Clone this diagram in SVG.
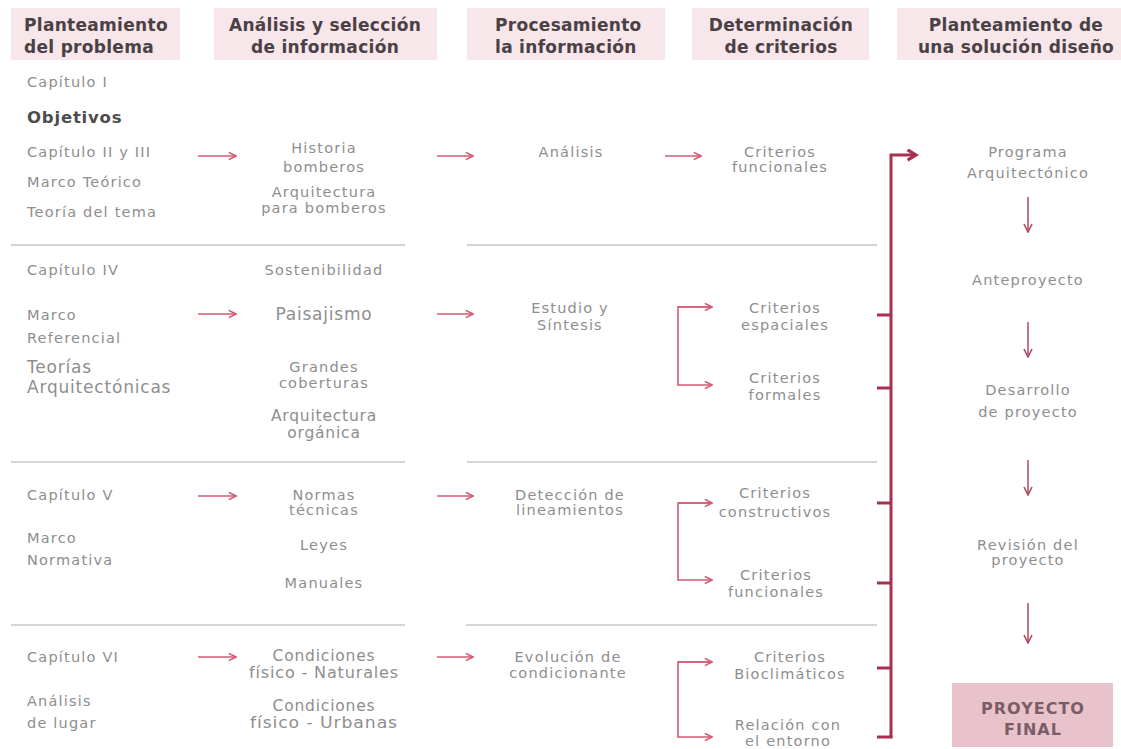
<svg xmlns="http://www.w3.org/2000/svg" width="1121" height="749" viewBox="0 0 1121 749">
<style>
.hb{fill:#f7e6ea}
.ht{font-family:"DejaVu Sans",Verdana,sans-serif;font-weight:bold;font-size:17px;fill:#4a4145;letter-spacing:0.3px}
.t{font-family:"DejaVu Sans",Verdana,sans-serif;font-size:14.5px;fill:#8e8e8e;letter-spacing:1.2px}
.tl{font-family:"DejaVu Sans",Verdana,sans-serif;font-size:17px;fill:#8e8e8e;letter-spacing:0.8px}
.tm{font-family:"DejaVu Sans",Verdana,sans-serif;font-size:15.5px;fill:#8e8e8e;letter-spacing:0.8px}
.ob{font-family:"DejaVu Sans",Verdana,sans-serif;font-weight:bold;font-size:16.5px;fill:#4d4d4d;letter-spacing:0.8px}
.m{text-anchor:middle}
.gl{stroke:#d5d5d5;stroke-width:2;fill:none}
.sa{stroke:#d45a74;stroke-width:1.6;fill:none}
.da{stroke:#b04862;stroke-width:1.5;fill:none}
.ra{stroke:#a8304e;stroke-width:3;fill:none}
.fb{fill:#e9c3cc}
.ft{font-family:"DejaVu Sans",Verdana,sans-serif;font-weight:bold;font-size:16px;fill:#7a5d65;letter-spacing:1px;text-anchor:middle}
</style>
<defs>
<marker id="ah" viewBox="0 0 10 10" refX="9" refY="5" markerWidth="9" markerHeight="9" markerUnits="userSpaceOnUse" orient="auto">
<path d="M1,1 L9,5 L1,9" fill="none" stroke="#d45a74" stroke-width="1.8"/>
</marker>
<marker id="ahd" viewBox="0 0 10 10" refX="9" refY="5" markerWidth="10" markerHeight="10" markerUnits="userSpaceOnUse" orient="auto">
<path d="M1,1 L9,5 L1,9" fill="none" stroke="#b04862" stroke-width="1.6"/>
</marker>
<marker id="ahb" viewBox="0 0 10 10" refX="8" refY="5" markerWidth="13" markerHeight="13" markerUnits="userSpaceOnUse" orient="auto">
<path d="M1.5,1 L8,5 L1.5,9" fill="none" stroke="#a8304e" stroke-width="2.4"/>
</marker>
</defs>
<rect width="1121" height="749" fill="#ffffff"/>

<g id="headers">
<g id="h1"><rect class="hb" x="11" y="8" width="169" height="52"/><text class="ht" x="24" y="31">Planteamiento</text><text class="ht" x="24" y="53">del problema</text></g>
<g id="h2"><rect class="hb" x="214" y="8" width="223" height="52"/><text class="ht m" x="325" y="31">Análisis y selección</text><text class="ht m" x="325" y="53">de información</text></g>
<g id="h3"><rect class="hb" x="467" y="8" width="198" height="52"/><text class="ht" x="495" y="31">Procesamiento</text><text class="ht" x="495" y="53">la información</text></g>
<g id="h4"><rect class="hb" x="692" y="8" width="177" height="52"/><text class="ht m" x="781" y="31">Determinación</text><text class="ht m" x="781" y="53">de criterios</text></g>
<g id="h5"><rect class="hb" x="897" y="8" width="224" height="52"/><text class="ht m" x="1016" y="31">Planteamiento de</text><text class="ht m" x="1016" y="53">una solución diseño</text></g>
</g>

<g id="separators">
<line class="gl" x1="11" y1="245" x2="405" y2="245"/><line class="gl" x1="467" y1="245" x2="877" y2="245"/>
<line class="gl" x1="11" y1="462" x2="405" y2="462"/><line class="gl" x1="467" y1="462" x2="877" y2="462"/>
<line class="gl" x1="11" y1="625" x2="405" y2="625"/><line class="gl" x1="466" y1="625" x2="877" y2="625"/>
</g>

<g id="col1">
<g id="n-cap1"><text class="t" x="27" y="87">Capítulo I</text></g>
<g id="n-obj"><text class="ob" x="27" y="123">Objetivos</text></g>
<g id="n-cap23"><text class="t" x="27" y="157">Capítulo II y III</text><text class="t" x="27" y="187">Marco Teórico</text><text class="t" x="27" y="217">Teoría del tema</text></g>
<g id="n-cap4"><text class="t" x="27" y="275">Capítulo IV</text><text class="t" x="27" y="320">Marco</text><text class="t" x="27" y="343">Referencial</text><text class="tl" x="27" y="373">Teorías</text><text class="tl" x="27" y="393">Arquitectónicas</text></g>
<g id="n-cap5"><text class="t" x="27" y="500">Capítulo V</text><text class="t" x="27" y="543">Marco</text><text class="t" x="27" y="565">Normativa</text></g>
<g id="n-cap6"><text class="t" x="27" y="662">Capítulo VI</text><text class="t" x="27" y="706">Análisis</text><text class="t" x="27" y="728">de lugar</text></g>
</g>

<g id="col2">
<g id="n-hist"><text class="t m" x="324" y="153">Historia</text><text class="t m" x="324" y="172">bomberos</text><text class="t m" x="324" y="197">Arquitectura</text><text class="t m" x="324" y="213">para bomberos</text></g>
<g id="n-sost"><text class="t m" x="324" y="275">Sostenibilidad</text><text class="tl m" x="324" y="320">Paisajismo</text><text class="t m" x="324" y="372">Grandes</text><text class="t m" x="324" y="388">coberturas</text><text class="tm m" x="324" y="421">Arquitectura</text><text class="tm m" x="324" y="438">orgánica</text></g>
<g id="n-norm"><text class="t m" x="324" y="500">Normas</text><text class="t m" x="324" y="515">técnicas</text><text class="t m" x="324" y="550">Leyes</text><text class="t m" x="324" y="588">Manuales</text></g>
<g id="n-cond"><text class="tm m" x="324" y="661">Condiciones</text><text class="tm m" x="324" y="678" textLength="150" lengthAdjust="spacingAndGlyphs">físico - Naturales</text><text class="tm m" x="324" y="711">Condiciones</text><text class="tm m" x="324" y="728" textLength="148" lengthAdjust="spacingAndGlyphs">físico - Urbanas</text></g>
</g>

<g id="col3">
<g id="n-anal"><text class="t m" x="571" y="157">Análisis</text></g>
<g id="n-est"><text class="t m" x="570" y="313">Estudio y</text><text class="t m" x="570" y="330">Síntesis</text></g>
<g id="n-det"><text class="t m" x="570" y="500">Detección de</text><text class="t m" x="570" y="515">lineamientos</text></g>
<g id="n-evo"><text class="t m" x="568" y="662">Evolución de</text><text class="t m" x="568" y="678">condicionante</text></g>
</g>

<g id="col4">
<g id="n-cf1"><text class="t m" x="780" y="157">Criterios</text><text class="t m" x="780" y="172">funcionales</text></g>
<g id="n-ce"><text class="t m" x="785" y="313">Criterios</text><text class="t m" x="785" y="330">espaciales</text></g>
<g id="n-cfo"><text class="t m" x="785" y="383">Criterios</text><text class="t m" x="785" y="400">formales</text></g>
<g id="n-cc"><text class="t m" x="775" y="498">Criterios</text><text class="t m" x="775" y="517">constructivos</text></g>
<g id="n-cf2"><text class="t m" x="776" y="580">Criterios</text><text class="t m" x="776" y="597">funcionales</text></g>
<g id="n-cb"><text class="t m" x="790" y="662">Criterios</text><text class="t m" x="790" y="679">Bioclimáticos</text></g>
<g id="n-re"><text class="t m" x="788" y="730">Relación con</text><text class="t m" x="788" y="746">el entorno</text></g>
</g>

<g id="col5">
<g id="n-prog"><text class="t m" x="1028" y="157">Programa</text><text class="t m" x="1028" y="178">Arquitectónico</text></g>
<g id="n-ante"><text class="t m" x="1028" y="285">Anteproyecto</text></g>
<g id="n-des"><text class="t m" x="1028" y="395">Desarrollo</text><text class="t m" x="1028" y="417">de proyecto</text></g>
<g id="n-rev"><text class="t m" x="1028" y="550">Revisión del</text><text class="t m" x="1028" y="565">proyecto</text></g>
<g id="n-final"><rect class="fb" x="952" y="683" width="161" height="64"/><text class="ft" x="1033" y="714">PROYECTO</text><text class="ft" x="1033" y="735">FINAL</text></g>
</g>

<g id="connectors">
<line class="sa" x1="198" y1="156" x2="236" y2="156" marker-end="url(#ah)"/>
<line class="sa" x1="437" y1="156" x2="473" y2="156" marker-end="url(#ah)"/>
<line class="sa" x1="665" y1="156" x2="701" y2="156" marker-end="url(#ah)"/>
<line class="sa" x1="198" y1="314" x2="236" y2="314" marker-end="url(#ah)"/>
<line class="sa" x1="437" y1="314" x2="473" y2="314" marker-end="url(#ah)"/>
<line class="sa" x1="198" y1="496" x2="236" y2="496" marker-end="url(#ah)"/>
<line class="sa" x1="437" y1="496" x2="473" y2="496" marker-end="url(#ah)"/>
<line class="sa" x1="198" y1="657" x2="236" y2="657" marker-end="url(#ah)"/>
<line class="sa" x1="437" y1="657" x2="473" y2="657" marker-end="url(#ah)"/>
<polyline class="sa" points="712,307 678,307 678,385 712,385" marker-end="url(#ah)"/>
<line class="sa" x1="678" y1="307" x2="712" y2="307" marker-end="url(#ah)"/>
<polyline class="sa" points="712,503 678,503 678,580 712,580" marker-end="url(#ah)"/>
<line class="sa" x1="678" y1="503" x2="712" y2="503" marker-end="url(#ah)"/>
<polyline class="sa" points="712,662 678,662 678,737 712,737" marker-end="url(#ah)"/>
<line class="sa" x1="678" y1="662" x2="712" y2="662" marker-end="url(#ah)"/>
<polyline class="ra" points="891,738 891,155 916,155" marker-end="url(#ahb)"/>
<line class="ra" x1="877" y1="315" x2="891" y2="315"/>
<line class="ra" x1="877" y1="388" x2="891" y2="388"/>
<line class="ra" x1="877" y1="503" x2="891" y2="503"/>
<line class="ra" x1="877" y1="583" x2="891" y2="583"/>
<line class="ra" x1="877" y1="668" x2="891" y2="668"/>
<line class="ra" x1="877" y1="737" x2="892.5" y2="737"/>
<line class="da" x1="1028" y1="197" x2="1028" y2="232" marker-end="url(#ahd)"/>
<line class="da" x1="1028" y1="322" x2="1028" y2="357" marker-end="url(#ahd)"/>
<line class="da" x1="1028" y1="460" x2="1028" y2="495" marker-end="url(#ahd)"/>
<line class="da" x1="1028" y1="603" x2="1028" y2="643" marker-end="url(#ahd)"/>
</g>
</svg>
